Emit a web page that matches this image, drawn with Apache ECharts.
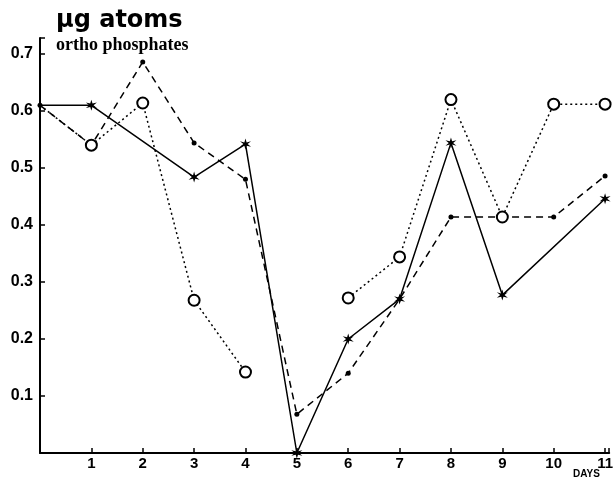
<!DOCTYPE html>
<html>
<head>
<meta charset="utf-8">
<script src="https://cdn.jsdelivr.net/npm/echarts@6/dist/echarts.min.js"></script>
<style>html,body{margin:0;padding:0;background:#fff}#c{width:616px;height:481px}</style>
</head>
<body>
<div id="c"></div>
<script>
const days = [0, 1, 2, 3, 4, 5, 6, 7, 8, 9, 10, 11];
// solid line with star markers (null = no measurement, line continues)
const solidStar = [0.61, 0.61, null, 0.484, 0.542, 0.0, 0.2, 0.27, 0.544, 0.277, null, 0.446];
// dashed line with small dots
const dashedDot = [0.61, 0.54, 0.686, 0.544, 0.48, 0.068, 0.14, 0.27, 0.414, 0.414, 0.414, 0.486];
// dotted line with open circles (null = gap in line)
const dottedCircle = [0.61, 0.54, 0.614, 0.268, 0.142, null, 0.272, 0.344, 0.62, 0.414, 0.612, 0.612];
const yTicks = ['0.1', '0.2', '0.3', '0.4', '0.5', '0.6', '0.7'];
const xTicks = ['1', '2', '3', '4', '5', '6', '7', '8', '9', '10', '11'];

const starPath = 'path://M10,0 L11.8,7 L18.66,5 L13.4,10 L18.66,15 L11.8,13 L10,20 L8.2,13 L1.34,15 L6.6,10 L1.34,5 L8.2,7 Z';

const chart = echarts.init(document.getElementById('c'), null, {renderer: 'canvas'});
const solidData = [];
solidStar.forEach((v, i) => {
  if (v !== null) solidData.push(i === 0 ? {value: [days[i], v], symbolSize: 0} : [days[i], v]);
});
const dottedData = dottedCircle.map((v, i) => {
  if (v === null) return [days[i], '-'];
  return i === 0 ? {value: [days[i], v], symbol: 'none'} : [days[i], v];
});
const dashedData = dashedDot.map((v, i) => [days[i], v]);

chart.setOption({
  animation: false,
  backgroundColor: '#fff',
  grid: {left: 40, right: 0, top: 38, bottom: 28, containLabel: false},
  xAxis: {
    type: 'value', min: 0, max: 11.08, interval: 1,
    axisLine: {show: true, lineStyle: {color: '#000', width: 2}},
    axisTick: {show: true, inside: true, length: 5, lineStyle: {color: '#000', width: 1.5}},
    axisLabel: {
      margin: 3, color: '#000', fontFamily: 'Liberation Sans, Arial, sans-serif', fontWeight: 'bold', fontSize: 15,
      formatter: v => { const i = Math.round(v); return (Math.abs(v - i) < 0.01 && i >= 1 && i <= 11) ? xTicks[i - 1] : ''; }
    },
    splitLine: {show: false}
  },
  yAxis: {
    type: 'value', min: 0, max: 0.728, interval: 0.1,
    axisLine: {show: true, lineStyle: {color: '#000', width: 2}},
    axisTick: {show: true, inside: true, length: 5, lineStyle: {color: '#000', width: 1.5}},
    axisLabel: {
      margin: 7, color: '#000', fontFamily: 'Liberation Sans, Arial, sans-serif', fontWeight: 'bold', fontSize: 16,
      formatter: v => { const i = Math.round(v * 10); return (Math.abs(v * 10 - i) < 0.01 && i >= 1 && i <= 7) ? yTicks[i - 1] : ''; }
    },
    splitLine: {show: false}
  },
  graphic: [
    {type: 'text', left: 56, top: 9, style: {text: 'μg atoms', font: 'bold 24px "DejaVu Sans", sans-serif', fill: '#000'}},
    {type: 'text', left: 56, top: 36, style: {text: 'ortho phosphates', font: 'bold 18px "Liberation Serif", "DejaVu Serif", serif', fill: '#000'}},
    {type: 'text', left: 573, top: 469, style: {text: 'DAYS', font: 'bold 10px "Liberation Sans", Arial, sans-serif', fill: '#000'}}
  ],
  series: [
    {
      type: 'line', data: solidData, symbol: starPath, symbolSize: 11,
      lineStyle: {color: '#000', width: 1.5, type: 'solid'},
      itemStyle: {color: '#000'}, z: 3
    },
    {
      type: 'line', data: dashedData, symbol: 'circle', symbolSize: 5,
      lineStyle: {color: '#000', width: 1.5, type: [7, 5]},
      itemStyle: {color: '#000'}, z: 2
    },
    {
      type: 'line', data: dottedData, connectNulls: false, symbol: 'circle', symbolSize: 11,
      lineStyle: {color: '#000', width: 1.5, type: [2, 3]},
      itemStyle: {color: '#fff', borderColor: '#000', borderWidth: 2}, z: 4
    }
  ]
});
</script>
</body>
</html>
